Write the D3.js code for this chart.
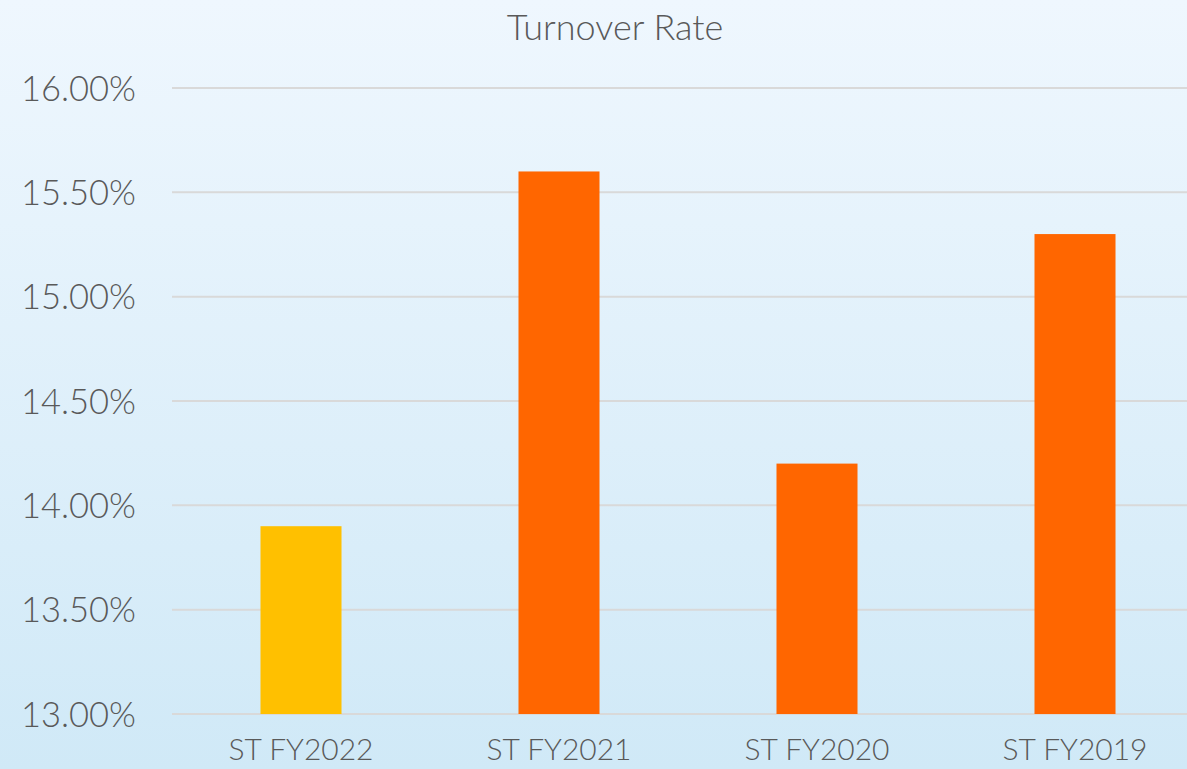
<!DOCTYPE html>
<html>
<head>
<meta charset="utf-8">
<script src="https://cdn.jsdelivr.net/npm/d3@7"></script>
<style>
  html, body { margin: 0; padding: 0; overflow: hidden; }
  #chart { width: 1187px; height: 769px; }
</style>
</head>
<body>
<div id="chart"></div>
<script>
const categories = ["ST FY2022", "ST FY2021", "ST FY2020", "ST FY2019"];
const rates = [13.9, 15.6, 14.2, 15.3];
const barColors = ["#ffc000", "#ff6600", "#ff6600", "#ff6600"];
const yTicks = [13.0, 13.5, 14.0, 14.5, 15.0, 15.5, 16.0];
const chartTitle = "Turnover Rate";

const width = 1187;
const height = 769;
const fontFamily = "Lato, 'Open Sans', sans-serif";
const textColor = "#595959";

function drawChart() {
    var svg = d3.select("#chart")
        .append("svg")
        .attr("width", width)
        .attr("height", height);

    // background gradient
    var grad = svg.append("defs")
        .append("linearGradient")
        .attr("id", "bg")
        .attr("x1", 0).attr("y1", 0)
        .attr("x2", 0).attr("y2", 1);
    grad.append("stop").attr("offset", "0%").attr("stop-color", "#eff7fe");
    grad.append("stop").attr("offset", "100%").attr("stop-color", "#d0e9f7");

    svg.append("rect")
        .attr("width", width)
        .attr("height", height)
        .attr("fill", "url(#bg)");

    var x = d3.scaleBand()
        .domain(categories)
        .range([172, 1204])
        .paddingInner(0.686)
        .paddingOuter(0.343);

    var y = d3.scaleLinear()
        .domain([13, 16])
        .range([714, 88]);

    // gridlines
    svg.append("g")
        .selectAll("line")
        .data(yTicks)
        .join("line")
        .attr("x1", 172)
        .attr("x2", width)
        .attr("y1", d => y(d))
        .attr("y2", d => y(d))
        .style("stroke", "#d9d9d9")
        .style("stroke-width", 2);

    // y axis labels
    var yAxis = d3.axisLeft(y)
        .tickValues(yTicks)
        .tickSize(0)
        .tickPadding(0)
        .tickFormat(d => d.toFixed(2) + "%");

    var yg = svg.append("g")
        .attr("transform", "translate(136,0)")
        .call(yAxis);
    yg.select(".domain").remove();
    yg.selectAll("text")
        .attr("font-family", fontFamily)
        .attr("font-size", 34.5)
        .attr("font-weight", 300)
        .attr("fill", textColor)
        .attr("dy", "0.35em");

    // bars
    svg.append("g")
        .selectAll("rect")
        .data(rates)
        .join("rect")
        .attr("x", (d, i) => x(categories[i]))
        .attr("y", d => y(d))
        .attr("width", x.bandwidth())
        .attr("height", d => y(13) - y(d))
        .attr("fill", (d, i) => barColors[i]);

    // x axis labels
    var xAxis = d3.axisBottom(x)
        .tickSize(0)
        .tickPadding(0);

    var xg = svg.append("g")
        .attr("transform", "translate(0,736)")
        .call(xAxis);
    xg.select(".domain").remove();
    xg.selectAll("text")
        .attr("font-family", fontFamily)
        .attr("font-size", 30)
        .attr("font-weight", 300)
        .attr("fill", textColor)
        .attr("dy", "0.8em");

    // title
    svg.append("text")
        .attr("x", 615)
        .attr("y", 40)
        .attr("text-anchor", "middle")
        .attr("font-family", fontFamily)
        .attr("font-size", 36)
        .attr("font-weight", 300)
        .attr("fill", textColor)
        .text(chartTitle);
}

window.onload = drawChart();
</script>
</body>
</html>
